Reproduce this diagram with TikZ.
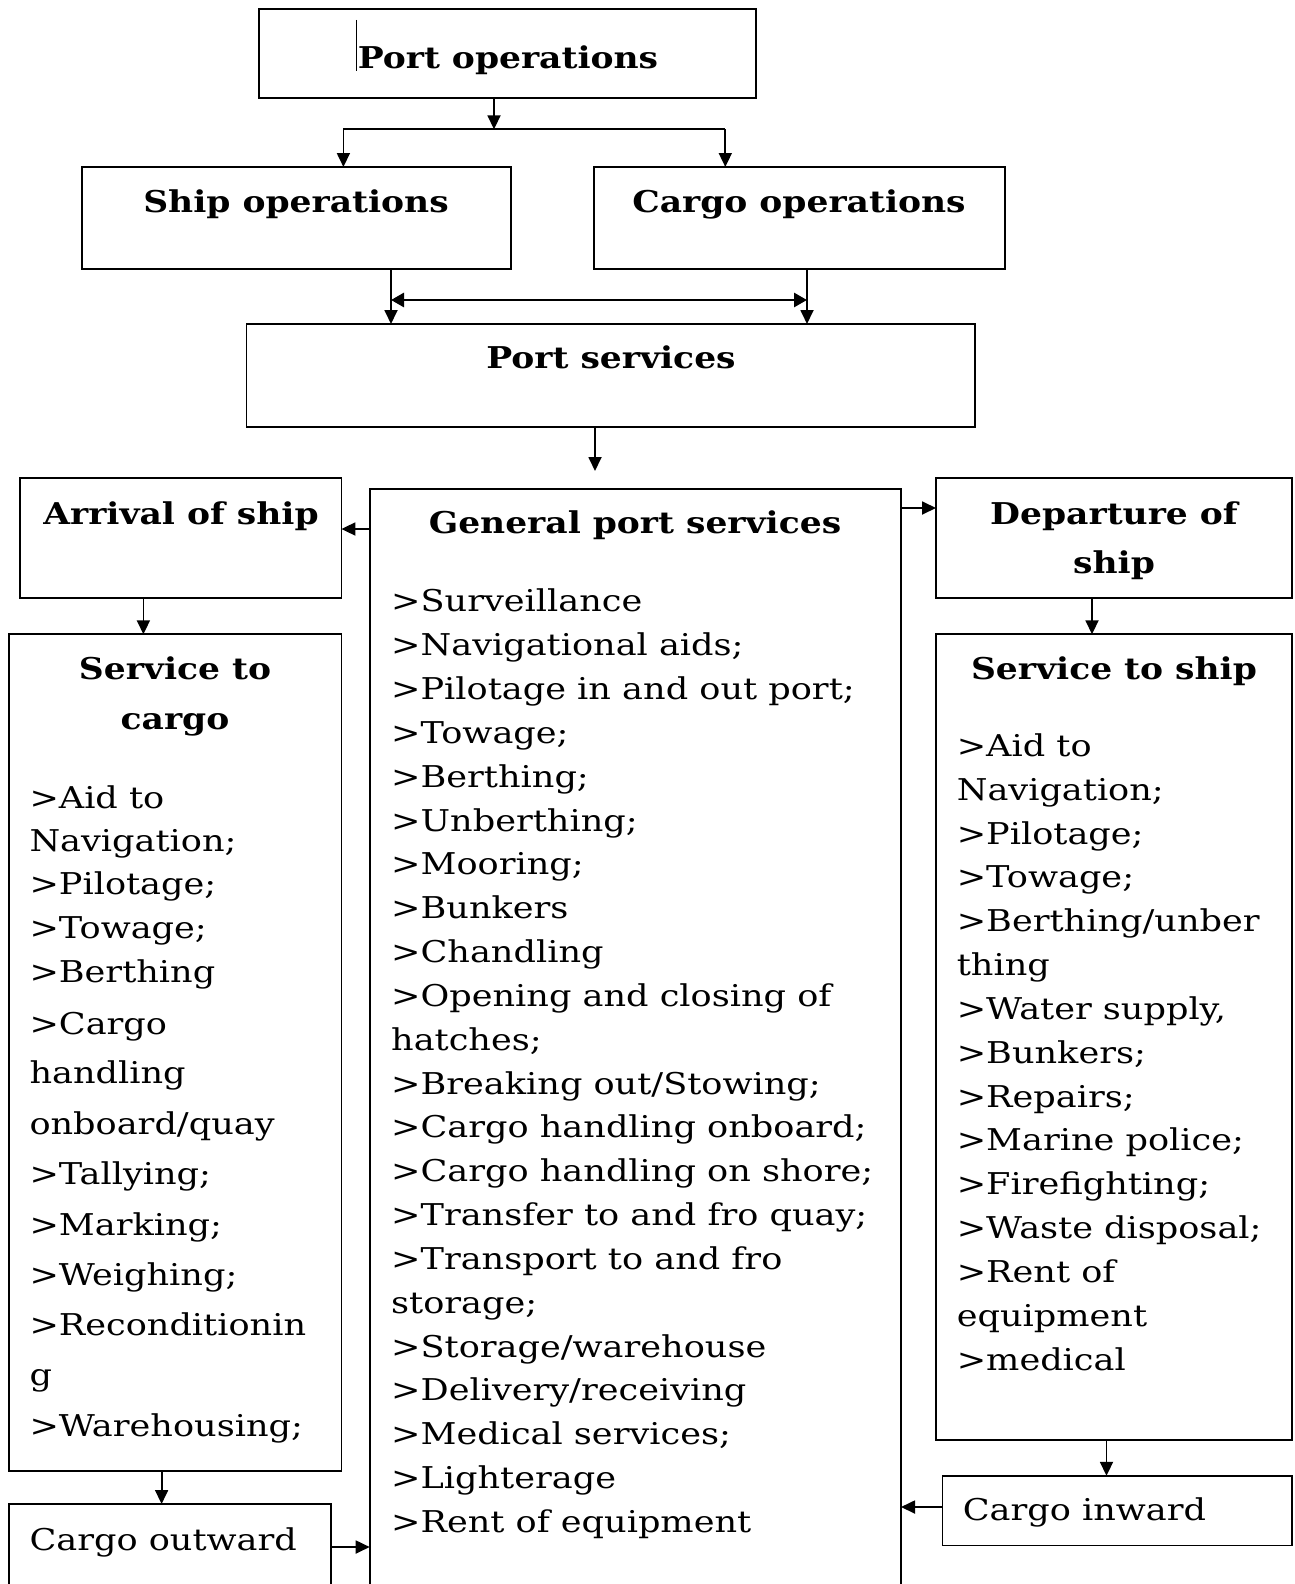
\documentclass[tikz,border=0pt]{standalone}
\usepackage{fontspec}
\setmainfont{DejaVu Serif}[FakeStretch=1.17, BoldFeatures={FakeStretch=1.15}]
\usetikzlibrary{arrows.meta}
\begin{document}
\begin{tikzpicture}[x=1pt,y=-1pt,
  box/.style={draw, line width=1.8pt, inner sep=0pt, outer sep=0pt, anchor=north west},
  ttl/.style={font=\fontsize{30}{36}\selectfont\bfseries, inner sep=0pt, anchor=base},
  itm/.style={font=\fontsize{30}{36}\selectfont, inner sep=0pt, anchor=base west},
  arr/.style={line width=1.8pt, -{Triangle[length=14pt,width=13pt]}},
  ln/.style={line width=1.8pt}]
\useasboundingbox (0,0) rectangle (1295,1584);
\clip (0,0) rectangle (1295,1584);
\fill[white] (0,0) rectangle (1295,1584);

% boxes
\node[box, minimum width=497pt, minimum height=89pt] (po) at (259,9) {};
\node[box, minimum width=429pt, minimum height=102pt] (so) at (82,167) {};
\node[box, minimum width=411pt, minimum height=102pt] (co) at (594,167) {};
\node[box, minimum width=728.5pt, minimum height=103pt] (ps) at (246.5,324) {};
\node[box, minimum width=321.4pt, minimum height=120pt] (ar) at (20,478) {};
\node[box, minimum width=531.3pt, minimum height=1200pt] (gp) at (369.7,489) {};
\node[box, minimum width=356pt, minimum height=120pt] (dp) at (936,478) {};
\node[box, minimum width=332.4pt, minimum height=836.4pt] (sc) at (9,634.3) {};
\node[box, minimum width=356pt, minimum height=805.7pt] (ss) at (936,634.3) {};
\node[box, minimum width=349.6pt, minimum height=69.7pt] (ci) at (942.4,1475.8) {};
\node[box, minimum width=322.3pt, minimum height=200pt] (cw) at (9,1504) {};

% titles
\node[ttl] (tpo) at (508,68.5) {Port operations};
\node[ttl] (tso) at (296,212) {Ship operations};
\node[ttl] (tco) at (799,212) {Cargo operations};
\node[ttl] (tps) at (611,368.5) {Port services};
\node[ttl] (tar) at (181,524) {Arrival of ship};
\node[ttl] (tgp) at (635,533) {General port services};
\node[ttl] (tdp1) at (1114,524) {Departure of};
\node[ttl] (tdp2) at (1114,573.5) {ship};
\node[ttl] (tsc1) at (175,679) {Service to};
\node[ttl] (tsc2) at (175,729) {cargo};
\node[ttl] (tss) at (1114,679.5) {Service to ship};

% cursor mark
\draw[line width=1pt] (356.6,20) -- (356.6,71);

% general list
\foreach \t [count=\i from 0] in {>Surveillance,>Navigational aids;,>Pilotage in and out port;,>Towage;,>Berthing;,>Unberthing;,>Mooring;,>Bunkers,>Chandling,>Opening and closing of,hatches;,>Breaking out/Stowing;,>Cargo handling onboard;,>Cargo handling on shore;,>Transfer to and fro quay;,>Transport to and fro,storage;,>Storage/warehouse,>Delivery/receiving,>Medical services;,>Lighterage,>Rent of equipment}
  \node[itm] (g\i) at (391,611.8+43.84*\i) {\t};

% service to cargo list
\foreach \t/\yy [count=\i] in {{>Aid to}/808,{Navigation;}/851.4,{>Pilotage;}/894.8,{>Towage;}/938.3,{>Berthing}/982.7,{>Cargo}/1034.3,{handling}/1083.7,{onboard/quay}/1134.2,{>Tallying;}/1184.8,{>Marking;}/1235.2,{>Weighing;}/1285.7,{>Reconditionin}/1335.2,{g}/1385.8,{>Warehousing;}/1436.3}
  \node[itm] (c\i) at (29.3,\yy) {\t};

% service to ship list
\foreach \t [count=\i from 0] in {>Aid to,Navigation;,>Pilotage;,>Towage;,>Berthing/unber,thing,{>Water supply,},>Bunkers;,>Repairs;,>Marine police;,>Firefighting;,>Waste disposal;,>Rent of,equipment,>medical}
  \node[itm] (s\i) at (956.6,756.4+43.84*\i) {\t};

\node[itm] (tci) at (962.6,1520) {Cargo inward};
\node[itm] (tcw) at (29.3,1550) {Cargo outward};

% connectors
\coordinate (j) at (494,129.3);
\coordinate (jl) at (343.4,129.3);
\coordinate (jr) at (725.3,129.3);
\draw[arr] (po.south -| j) -- (j);
\draw[ln] (jl) -- (jr);
\draw[arr] (jl) -- (so.north -| jl);
\draw[arr] (jr) -- (co.north -| jr);

\coordinate (vl) at (391,300);
\coordinate (vr) at (807,300);
\draw[arr] (so.south -| vl) -- (ps.north -| vl);
\draw[arr] (co.south -| vr) -- (ps.north -| vr);
\draw[line width=2.8pt, {Triangle[length=13pt,width=14pt]}-{Triangle[length=13pt,width=14pt]}] (vl) -- (vr);

\coordinate (pd) at (595,471);
\draw[arr] (ps.south -| pd) -- (pd);

\coordinate (ya) at (0,529);
\draw[arr] (gp.west |- ya) -- (ar.east |- ya);
\coordinate (yd) at (0,508);
\draw[arr] (gp.east |- yd) -- (dp.west |- yd);

\coordinate (xs) at (143.4,0);
\draw[arr] (ar.south -| xs) -- (sc.north -| xs);
\coordinate (xd) at (1092,0);
\draw[arr] (dp.south -| xd) -- (ss.north -| xd);
\coordinate (xi) at (1106.5,0);
\draw[arr] (ss.south -| xi) -- (ci.north -| xi);
\coordinate (yi) at (0,1507);
\draw[arr] (ci.west |- yi) -- (gp.east |- yi);
\coordinate (xo) at (161.6,0);
\draw[arr] (sc.south -| xo) -- (cw.north -| xo);
\coordinate (yo) at (0,1547);
\draw[arr] (cw.east |- yo) -- (gp.west |- yo);
\end{tikzpicture}
\end{document}
